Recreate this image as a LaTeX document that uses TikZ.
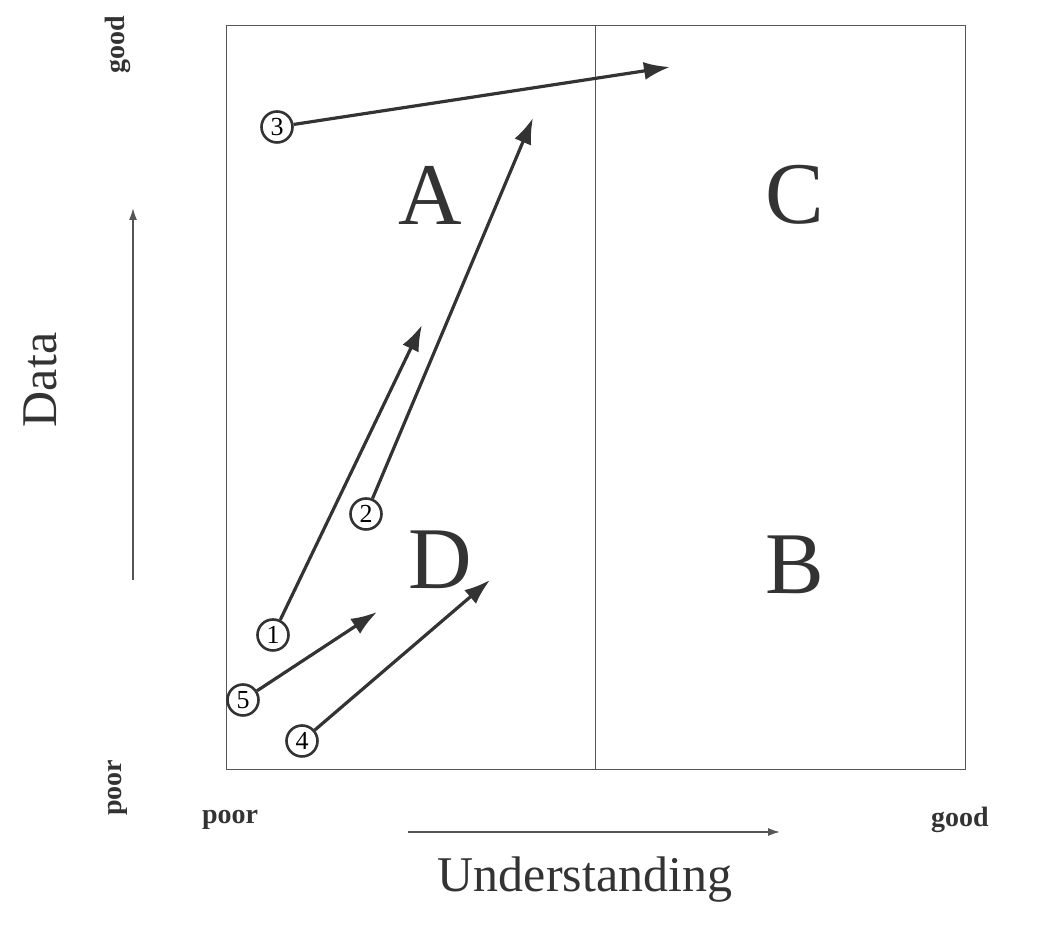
\documentclass[tikz,border=0pt]{standalone}
\usepackage{fontspec}
\setmainfont{Liberation Serif}
\usetikzlibrary{arrows.meta,positioning}
\definecolor{inkGray}{HTML}{333333}
\definecolor{axisGray}{HTML}{555555}

\begin{document}
\begin{tikzpicture}[x=0.5pt,y=0.5pt,
    numcirc/.style={draw=inkGray,circle,line width=1.3pt,minimum size=15.5pt,
                    inner sep=0pt,font=\fontsize{13}{13}\selectfont,fill=white},
    quad/.style={font=\fontsize{44}{44}\selectfont,text=inkGray},
    endlbl/.style={font=\bfseries\fontsize{14}{14}\selectfont,text=inkGray},
    move/.style={draw=inkGray,line width=1.6pt,-{Latex[length=13pt,width=9pt]}},
    axisarrow/.style={draw=axisGray,line width=0.8pt,-{Latex[length=6pt,width=4pt]}}]
  \useasboundingbox (0,0) rectangle (1045,931);

  % quadrant frame
  \draw[axisGray,line width=0.5pt] (226,161) rectangle (965,905);
  \draw[axisGray,line width=0.5pt] (595,161) -- (595,905);

  \node[quad] (qA) at (430,736) {A};
  \node[quad] (qC) at (795,736) {C};
  \node[quad] (qD) at (440,371) {D};
  \node[quad] (qB) at (795,366) {B};

  % axes
  \node[rotate=90,font=\fontsize{25}{25}\selectfont,text=inkGray] (ylab) at (40,551) {Data};
  \node[font=\fontsize{25}{25}\selectfont,text=inkGray] (xlab) at (585,51) {Understanding};
  \node[endlbl,rotate=90] (ygood) at (118,886) {good};
  \node[endlbl,rotate=90] (ypoor) at (118,143) {poor};
  \node[endlbl] (xpoor) at (230,111) {poor};
  \node[endlbl] (xgood) at (960,111) {good};
  \coordinate (ya) at (133,351);
  \coordinate (yb) at (133,723);
  \coordinate (xa) at (408,99);
  \coordinate (xb) at (780,99);
  \draw[axisarrow] (ya) -- (yb);
  \draw[axisarrow] (xa) -- (xb);

  % moves
  \coordinate (t1) at (422,606);
  \coordinate (t2) at (533,813);
  \coordinate (t3) at (670,864);
  \coordinate (t4) at (490,351);
  \coordinate (t5) at (377,319);
  \node[numcirc] (n3) at (277,804) {3};
  \node[numcirc] (n1) at (273,296) {1};
  \node[numcirc] (n5) at (243,231) {5};
  \node[numcirc] (n4) at (302,190) {4};
  \node[numcirc] (n2) at (366,417) {2};
  \foreach \k in {1,...,5}
    \draw[move] (n\k) -- (t\k);
\end{tikzpicture}
\end{document}
